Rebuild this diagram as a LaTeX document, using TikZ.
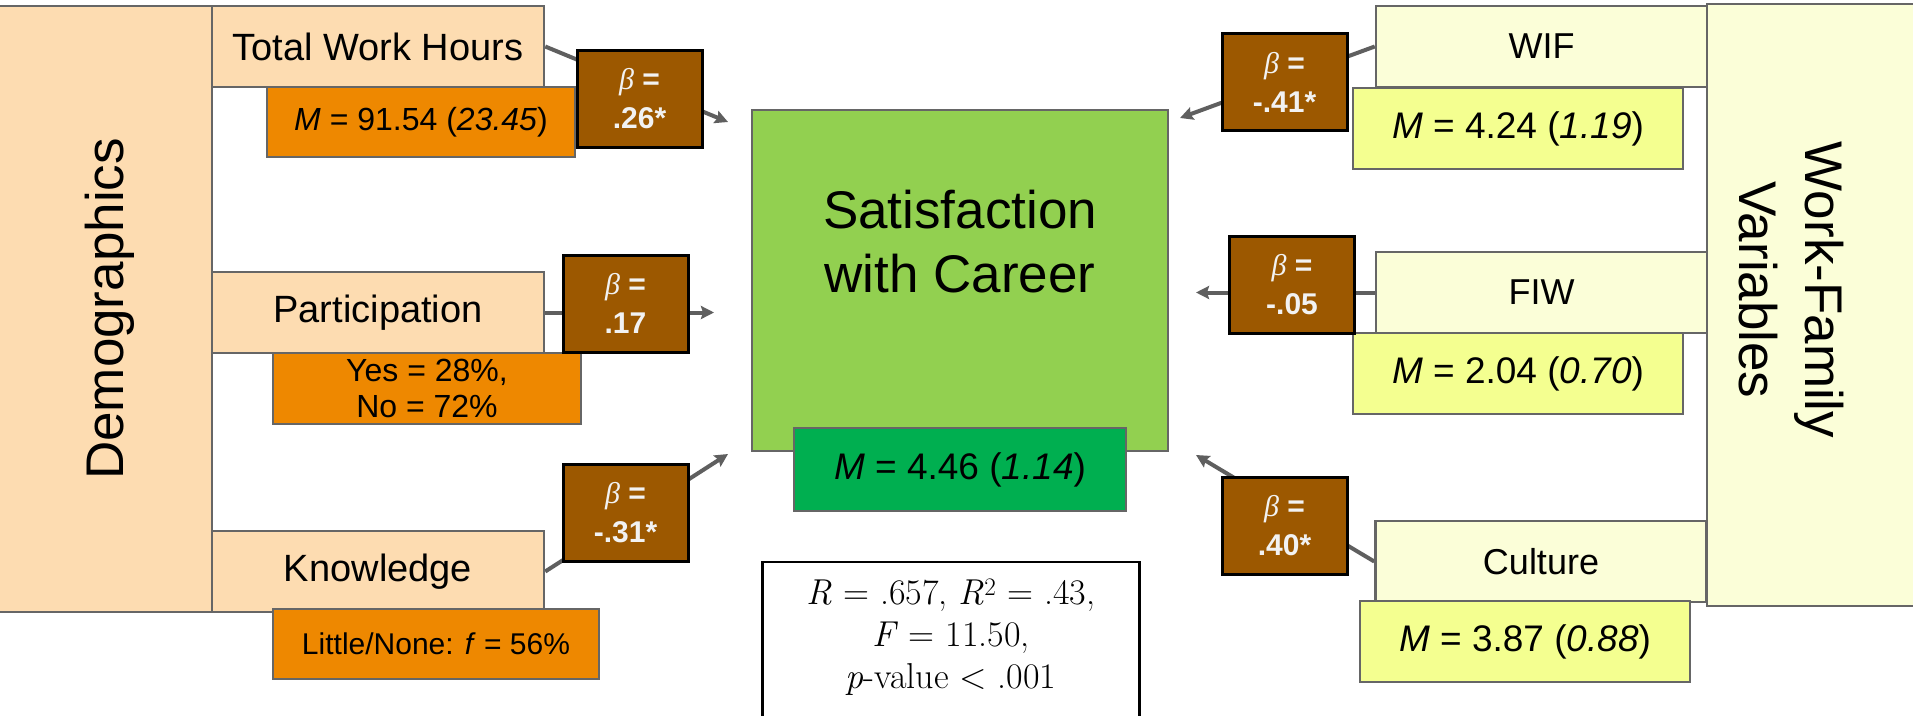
\documentclass[tikz,border=0pt]{standalone}
\usepackage{fontspec}
\setmainfont{Liberation Sans}
\newfontfamily\grk{Liberation Serif}
\newfontfamily\lmr{Latin Modern Roman}
\usetikzlibrary{arrows.meta,backgrounds}
\definecolor{peach}{HTML}{FDDCB1}
\definecolor{orng}{HTML}{EE8800}
\definecolor{brwn}{HTML}{9C5800}
\definecolor{lgreen}{HTML}{92D050}
\definecolor{dgreen}{HTML}{00AF50}
\definecolor{pyellow}{HTML}{FBFED8}
\definecolor{myellow}{HTML}{F4FF90}
\definecolor{bgray}{HTML}{666666}
\definecolor{cgray}{HTML}{5F5F5F}
\definecolor{btext}{HTML}{F2F2F2}
\begin{document}
\begin{tikzpicture}[x=1pt,y=-1pt,
  box/.style={draw=bgray, line width=2.5pt, inner sep=0pt, align=center},
  labbox/.style={box, fill=peach, minimum width=332pt, minimum height=81pt, font=\fontsize{38}{45}\selectfont},
  obox/.style={box, fill=orng, minimum width=308pt, minimum height=70pt, font=\fontsize{32}{36}\selectfont},
  rlab/.style={box, fill=pyellow, minimum width=331pt, minimum height=81pt, font=\fontsize{36}{43}\selectfont},
  ybox/.style={box, fill=myellow, minimum width=330pt, minimum height=81pt, font=\fontsize{37}{43}\selectfont},
  beta/.style={draw=black, line width=3pt, fill=brwn, minimum width=125pt, minimum height=97pt, inner sep=0pt, align=center, text=btext, font=\bfseries\fontsize{30}{39}\selectfont},
  conn/.style={draw=cgray, line width=4pt, -{Stealth[length=13pt,width=13pt,inset=2pt]}},
]
\useasboundingbox (0,0) rectangle (1913,715);

% big side boxes
\node[box, fill=peach, minimum width=218pt, minimum height=606pt] (demo) at (103,309) {};
\node[rotate=90, font=\fontsize{53}{64}\selectfont] (demotext) at (110,309) {Demographics};
\node[box, fill=pyellow, minimum width=213pt, minimum height=602pt] (wfv) at (1813.5,305) {};
\node[rotate=-90, align=center, font=\fontsize{53}{66}\selectfont] (wfvtext) at (1791,290) {Work-Family\\Variables};

% left predictors
\node[labbox] (twh) at (378,46.5) {Total Work Hours};
\node[obox] (m1) at (421,122) {\textit{M} = 91.54 (\textit{23.45})};
\node[labbox] (part) at (378,312.5) {Participation};
\node[obox, minimum height=71pt] (m2) at (427,388.5) {Yes = 28\%,\\No = 72\%};
\node[labbox] (know) at (378,571.5) {Knowledge};
\node[obox, minimum width=326pt, font=\fontsize{30}{36}\selectfont] (m3) at (436,644) {Little/None: \textit{f} = 56\%};

% right predictors
\node[rlab] (wif) at (1541.5,46.5) {WIF};
\node[ybox] (m4) at (1518,128.5) {\textit{M} = 4.24 (\textit{1.19})};
\node[rlab] (fiw) at (1541.5,292.5) {FIW};
\node[ybox] (m5) at (1518,373.5) {\textit{M} = 2.04 (\textit{0.70})};
\node[rlab] (cult) at (1541,561.5) {Culture};
\node[ybox] (m6) at (1525,641.5) {\textit{M} = 3.87 (\textit{0.88})};

% outcome
\node[box, fill=lgreen, minimum width=416pt, minimum height=341pt] (sat) at (960,280.5) {};
\node[align=center, font=\fontsize{53}{64}\selectfont] (sattext) at (960,242) {Satisfaction\\with Career};
\node[box, fill=dgreen, minimum width=332pt, minimum height=83pt, font=\fontsize{37}{43}\selectfont] (msat) at (960,469.5) {\textit{M} = 4.46 (\textit{1.14})};

% statistics
\node[draw=black, line width=2.5pt, fill=white, minimum width=377pt, minimum height=200pt, inner sep=0pt] (stats) at (951,662) {};
\node[align=center, inner sep=0pt, font=\lmr\fontsize{36}{42}\selectfont] (statstext) at (951,637) {\textit{R} = .657, \textit{R}\textsuperscript{2} = .43,\\\textit{F} = 11.50,\\\textit{p}-value < .001};

% beta boxes
\node[beta] (b1) at (639.5,99) {{\mdseries\grk\itshape β} =\\.26*};
\node[beta] (b2) at (625.5,303.5) {{\mdseries\grk\itshape β} =\\.17};
\node[beta] (b3) at (625.5,513) {{\mdseries\grk\itshape β} =\\-.31*};
\node[beta] (b4) at (1284.5,82) {{\mdseries\grk\itshape β} =\\-.41*};
\node[beta] (b5) at (1292,284.5) {{\mdseries\grk\itshape β} =\\-.05};
\node[beta] (b6) at (1284.5,526) {{\mdseries\grk\itshape β} =\\.40*};

% arrow tips
\coordinate (t1) at (728,122);
\coordinate (t2) at (714,312.5);
\coordinate (t3) at (728,454);
\coordinate (t4) at (1180,118);
\coordinate (t5) at (1196,292.5);
\coordinate (t6) at (1196,455);

\begin{pgfonlayer}{background}
\fill[white] (0,0) rectangle (1913,715);
\draw[conn] (twh.east) -- (t1);
\draw[conn] (part.east) -- (t2);
\draw[conn] (know.east) -- (t3);
\draw[conn] (wif.west) -- (t4);
\draw[conn] (fiw.west) -- (t5);
\draw[conn] (cult.west) -- (t6);
\end{pgfonlayer}
\end{tikzpicture}
\end{document}
